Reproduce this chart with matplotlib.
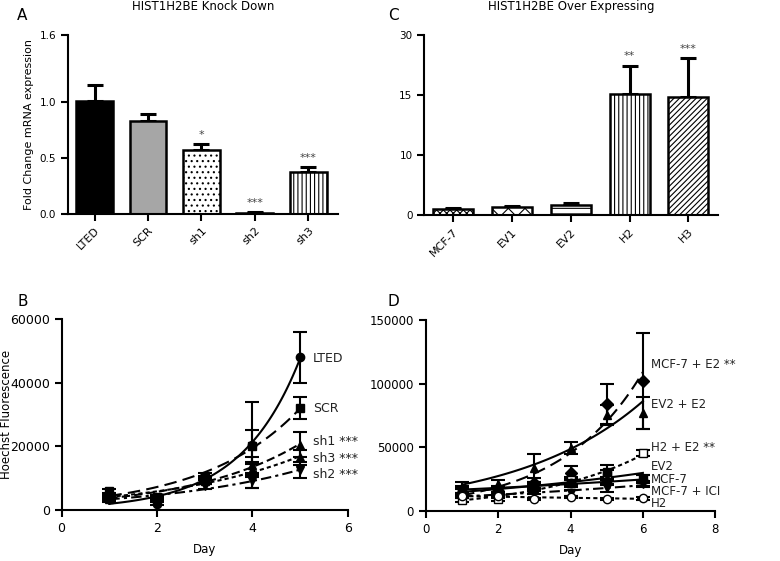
import numpy as np
import matplotlib
matplotlib.use("Agg")
from matplotlib import pyplot as plt

plt.rcParams['font.family'] = ['DejaVu Sans']
plt.rcParams['hatch.linewidth'] = 0.8

# panel A: knock down qPCR
kd_labels = ['LTED', 'SCR', 'sh1', 'sh2', 'sh3']
kd_values = [1.01, 0.83, 0.57, 0.01, 0.37]
kd_err = [0.14, 0.06, 0.05, 0.004, 0.05]
kd_stars = ['', '', '*', '***', '***']

# panel C: over expressing qPCR (axis is drawn with uneven tick spacing 0,10,15,30)
oe_labels = ['MCF-7', 'EV1', 'EV2', 'H2', 'H3']
oe_values = [1.0, 1.3, 1.7, 15.3, 14.8]
oe_err = [0.1, 0.25, 0.35, 7.0, 9.3]
oe_stars = ['', '', '', '**', '***']
oe_ticks = [0, 10, 15, 30]

# panel B: growth of knock down lines
days_b = np.array([1, 2, 3, 4, 5])
b_names = ['LTED', 'SCR', 'sh1 ***', 'sh3 ***', 'sh2 ***']
b_values = [[3500, 2000, 9500, 20500, 48000],
            [6000, 4000, 10500, 20000, 32000],
            [3500, 3500, 9500, 14000, 20500],
            [4000, 4000, 9000, 12500, 16500],
            [3000, 3500, 7500, 9000, 12500]]
b_err = [[800, 600, 1200, 13500, 8000],
         [700, 600, 1000, 5000, 3500],
         [600, 600, 1000, 2500, 4000],
         [600, 600, 900, 2000, 2500],
         [500, 600, 800, 2000, 2500]]
b_label_y = [47700, 32000, 21400, 16300, 11300]

# panel D: growth of over expressing lines
days_d = np.array([1, 2, 3, 4, 5, 6])
d_names = ['MCF-7 + E2 **', 'EV2 + E2', 'H2 + E2 **', 'EV2', 'MCF-7', 'MCF-7 + ICI', 'H2']
d_values = [[14000, 16000, 22000, 30000, 84000, 102000],
            [18000, 21000, 34000, 49500, 75500, 77000],
            [9000, 9500, 18000, 24000, 28000, 45500],
            [15000, 16000, 19000, 22000, 31000, 25000],
            [17000, 17000, 20000, 22000, 23500, 24000],
            [12000, 13000, 15000, 14000, 18000, 21000],
            [12000, 11500, 9500, 11000, 9500, 10000]]
d_err = [[3000, 3000, 4000, 5000, 16000, 38000],
         [5000, 3000, 11000, 4500, 8000, 12500],
         [1500, 1500, 2500, 3000, 4000, 2500],
         [3000, 3000, 3000, 3000, 5000, 3000],
         [2500, 2500, 2500, 2500, 3000, 4000],
         [2000, 2000, 2000, 2500, 3000, 2500],
         [1000, 1000, 1000, 1000, 1000, 1000]]
d_label_y = [114700, 83200, 49500, 34600, 25100, 15400, 5800]

fig = plt.figure(figsize=(7.8, 5.61), dpi=100)


def style_axis(ax):
    ax.spines['top'].set_visible(False)
    ax.spines['right'].set_visible(False)
    ax.spines['left'].set_linewidth(1.5)
    ax.spines['bottom'].set_linewidth(1.5)
    ax.tick_params(width=1.5, length=5)


# ---- A ----
axA = fig.add_axes([0.087, 0.619, 0.346, 0.319])
xa = np.arange(len(kd_labels))
a_faces = ['black', '#a6a6a6', 'white', 'white', 'white']
a_hatch = [None, None, '...', None, '||||']
for i in xa:
    axA.bar(i, kd_values[i], width=0.69, color=a_faces[i], edgecolor='black',
            linewidth=1.8, hatch=a_hatch[i], zorder=2)
    axA.errorbar(i, kd_values[i], yerr=[[0], [kd_err[i]]], color='black',
                 capsize=6, capthick=2.2, elinewidth=2.2, zorder=1)
    if kd_stars[i]:
        axA.annotate(kd_stars[i], (i, kd_values[i] + kd_err[i]), xytext=(0, 3),
                     textcoords='offset points', ha='center', va='bottom',
                     fontsize=8, color='#444444')
axA.set_xlim(-0.5, 4.55)
axA.set_ylim(0, 1.6)
axA.set_yticks([0, 0.5, 1.0, 1.6])
axA.set_yticklabels(['0.0', '0.5', '1.0', '1.6'])
axA.set_xticks(xa)
axA.set_xticklabels(kd_labels, rotation=45, ha='right', rotation_mode='anchor')
axA.tick_params(labelsize=7.5)
axA.tick_params(axis='x', labelsize=8)
axA.set_ylabel('Fold Change mRNA expression', fontsize=8)
axA.set_title('HIST1H2BE Knock Down', fontsize=8.5, pad=18)
style_axis(axA)
fig.text(0.022, 0.965, 'A', fontsize=11)

# ---- C ----
axC = fig.add_axes([0.544, 0.617, 0.377, 0.321])
tick_pos = np.arange(len(oe_ticks))


def fwd(v):
    return np.interp(v, oe_ticks, tick_pos, left=-1, right=4)


def inv(v):
    return np.interp(v, tick_pos, oe_ticks)


axC.set_yscale('function', functions=(fwd, inv))
xc = np.arange(len(oe_labels))
c_hatch = ['xxxxx', 'xx', '---', '||||', '//////']
for i in xc:
    axC.bar(i, oe_values[i], width=0.68, color='white', edgecolor='black',
            linewidth=1.8, hatch=c_hatch[i], zorder=2)
    axC.errorbar(i, oe_values[i], yerr=[[0], [oe_err[i]]], color='black',
                 capsize=6, capthick=2.2, elinewidth=2.2, zorder=1)
    if oe_stars[i]:
        axC.annotate(oe_stars[i], (i, oe_values[i] + oe_err[i]), xytext=(0, 3),
                     textcoords='offset points', ha='center', va='bottom',
                     fontsize=8, color='#444444')
axC.set_xlim(-0.49, 4.51)
axC.set_ylim(0, 30)
axC.set_yticks(oe_ticks)
axC.set_yticklabels([str(t) for t in oe_ticks])
axC.set_xticks(xc)
axC.set_xticklabels(oe_labels, rotation=45, ha='right', rotation_mode='anchor')
axC.tick_params(labelsize=7.5)
axC.tick_params(axis='x', labelsize=8)
axC.set_title('HIST1H2BE Over Expressing', fontsize=8.5, pad=18)
style_axis(axC)
fig.text(0.497, 0.965, 'C', fontsize=11)

# ---- B ----
axB = fig.add_axes([0.079, 0.091, 0.367, 0.34])
b_markers = ['o', 's', '^', '^', 'v']
b_styles = ['-', (0, (6, 3)), (0, (4, 2)), (0, (2, 1.5)), (0, (5, 2, 1.5, 2))]
for vals, errs, mk, ls, name, ly in zip(b_values, b_err, b_markers, b_styles,
                                        b_names, b_label_y):
    vals = np.array(vals, dtype=float)
    axB.errorbar(days_b, vals, yerr=errs, fmt=mk, color='black', ms=6,
                 capsize=5, capthick=1.5, elinewidth=1.5)
    # exponential growth fit, weighted so it behaves like a linear-scale fit
    k, b0 = np.polyfit(days_b, np.log(vals), 1, w=vals)
    xs = np.linspace(1, 5, 100)
    axB.plot(xs, np.exp(b0 + k * xs), color='black', lw=1.5, linestyle=ls)
    axB.text(5.27, ly, name, fontsize=9, va='center', color='#222222')
axB.set_xlim(0, 6)
axB.set_ylim(0, 60000)
axB.set_xticks([0, 2, 4, 6])
axB.set_yticks([0, 20000, 40000, 60000])
axB.tick_params(labelsize=9)
axB.set_xlabel('Day', fontsize=8.5, labelpad=6)
axB.set_ylabel('Hoechst Fluorescence', fontsize=8.5)
axB.yaxis.set_label_coords(-0.17, 0.5)
style_axis(axB)
fig.text(0.022, 0.455, 'B', fontsize=11)

# ---- D ----
axD = fig.add_axes([0.546, 0.089, 0.371, 0.341])
d_markers = ['D', '^', 's', 's', 'o', 'v', 'o']
d_fill = ['black', 'black', 'white', 'black', 'black', 'black', 'white']
d_styles = [(0, (6, 3)), '-', (0, (2, 1.5)), '-', '-', (0, (5, 2, 1.5, 2)),
            (0, (2, 1.5))]
for vals, errs, mk, fc, ls, name, ly in zip(d_values, d_err, d_markers, d_fill,
                                            d_styles, d_names, d_label_y):
    vals = np.array(vals, dtype=float)
    axD.errorbar(days_d, vals, yerr=errs, fmt=mk, color='black', mfc=fc,
                 ms=6, capsize=5, capthick=1.5, elinewidth=1.5)
    k, b0 = np.polyfit(days_d, np.log(vals), 1, w=vals)
    xs = np.linspace(1, 6, 100)
    axD.plot(xs, np.exp(b0 + k * xs), color='black', lw=1.5, linestyle=ls)
    axD.text(6.22, ly, name, fontsize=8.5, va='center', color='#222222')
axD.set_xlim(0, 8)
axD.set_ylim(0, 150000)
axD.set_xticks([0, 2, 4, 6, 8])
axD.set_yticks([0, 50000, 100000, 150000])
axD.tick_params(labelsize=8.5)
axD.set_xlabel('Day', fontsize=8.5, labelpad=6)
style_axis(axD)
fig.text(0.497, 0.455, 'D', fontsize=11)

fig.savefig('out.png', dpi=100)
